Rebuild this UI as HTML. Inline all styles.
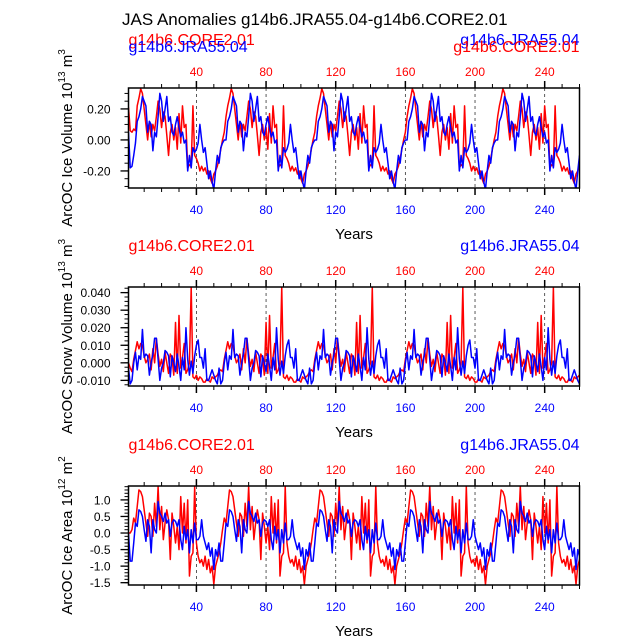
<!DOCTYPE html>
<html><head><meta charset="utf-8">
<style>
html,body{margin:0;padding:0;background:#fff;}
svg{display:block;font-family:"Liberation Sans",Arial,sans-serif;}
</style></head>
<body>
<svg id="chart" width="638" height="638" viewBox="0 0 638 638" xmlns="http://www.w3.org/2000/svg">
<text x="122" y="25" font-size="17" fill="#000">JAS Anomalies g14b6.JRA55.04-g14b6.CORE2.01</text>
</svg>
<script>
// ---- data (one 52-year forcing cycle, repeated 5x) ----
const years = Array.from({length:260},(_,i)=>i+1);
const xTicks = [40,80,120,160,200,240];
const volTicks = [0.2,0,-0.2];
const volTickLabels = ["0.20","0.00","-0.20"];
const snowTicks = [0.04,0.03,0.02,0.01,0,-0.01];
const snowTickLabels = ["0.040","0.030","0.020","0.010","0.000","-0.010"];
const areaTicks = [1,0.5,0,-0.5,-1,-1.5];
const areaTickLabels = ["1.0","0.5","0.0","-0.5","-1.0","-1.5"];

const coreVolCycle = [-0.12,-0.06,0.0,0.05,0.15,0.22,0.27,0.33,0.3,0.2,0.1,0.0,0.12,0.02,0.1,0.06,0.15,0.25,0.2,0.08,0.18,0.15,0.03,-0.1,0.05,0.1,0.0,0.08,-0.06,0.17,-0.02,0.22,0.08,0.1,-0.18,-0.16,-0.17,0.22,-0.1,-0.12,-0.15,-0.2,-0.17,-0.2,-0.18,-0.22,-0.2,-0.25,-0.28,-0.22,-0.2,-0.17];
const jraVolCycle = [-0.15,-0.05,-0.02,0.0,0.0,0.12,0.15,0.2,0.28,0.25,0.22,0.05,0.12,0.1,-0.07,0.05,0.02,0.15,0.3,0.25,0.12,0.2,0.28,0.12,0.15,0.05,0.03,0.1,0.15,0.08,0.02,0.05,-0.02,0.0,-0.2,-0.1,-0.18,-0.05,-0.08,-0.06,-0.02,0.1,0.0,-0.08,-0.05,-0.15,-0.25,-0.2,-0.27,-0.32,-0.2,-0.1];
const coreSnowCycle = [-0.005,-0.004,-0.005,0.002,0.007,0.012,0.008,0.011,0.01,0.004,0.0,0.002,0.005,-0.004,0.008,0.0,0.014,0.005,-0.002,0.002,-0.005,0.006,0.0,-0.006,0.005,0.003,-0.007,0.023,-0.006,0.027,-0.003,0.003,0.011,-0.006,-0.004,0.0,0.043,-0.008,-0.009,-0.007,-0.01,-0.008,-0.009,-0.011,-0.011,-0.009,-0.01,-0.011,-0.008,-0.009,-0.008,-0.007];
const jraSnowCycle = [-0.003,-0.012,-0.01,0.0,0.006,-0.004,0.004,0.002,0.019,0.003,0.005,0.004,-0.007,0.0,0.005,0.014,0.014,0.002,-0.01,-0.003,0.0,0.007,0.006,0.004,-0.008,0.004,0.0,-0.005,0.005,-0.002,-0.01,0.003,-0.004,0.02,0.002,-0.007,0.001,-0.006,0.004,0.01,0.013,0.003,0.003,-0.003,0.008,-0.01,-0.01,-0.007,-0.004,-0.007,-0.01,-0.012];
const coreAreaCycle = [-0.6,-0.3,0.1,0.45,0.3,0.8,1.3,1.25,1.1,0.7,0.3,-0.1,0.6,0.5,-0.1,0.9,0.2,1.4,0.1,0.8,-0.2,0.3,0.7,0.4,-0.8,0.6,0.2,-0.3,0.2,-0.5,1.1,0.0,0.9,-0.3,1.0,-1.3,-0.7,-0.6,1.4,-0.3,-0.7,-0.9,-0.8,-1.0,-0.7,-1.1,-0.8,-1.2,-1.0,-1.55,-1.0,-0.8];
const jraAreaCycle = [-0.3,-0.85,-0.85,-0.3,0.3,0.2,0.7,0.65,0.5,0.1,-0.25,0.4,0.2,-0.6,0.4,0.1,0.0,0.95,0.6,0.5,0.35,0.6,0.3,0.4,-0.1,0.3,0.4,0.35,0.2,0.4,-0.2,-0.5,0.2,-0.2,0.1,-0.6,0.1,-0.3,0.3,-0.2,-0.2,-0.1,0.4,-0.1,-0.3,-0.5,-0.3,-0.7,-0.45,-1.1,-0.5,-0.7];

const coreVol = [].concat(coreVolCycle,coreVolCycle,coreVolCycle,coreVolCycle,coreVolCycle);
const jraVol = [].concat(jraVolCycle,jraVolCycle,jraVolCycle,jraVolCycle,jraVolCycle);
const coreSnow = [].concat(coreSnowCycle,coreSnowCycle,coreSnowCycle,coreSnowCycle,coreSnowCycle);
const jraSnow = [].concat(jraSnowCycle,jraSnowCycle,jraSnowCycle,jraSnowCycle,jraSnowCycle);
const coreArea = [].concat(coreAreaCycle,coreAreaCycle,coreAreaCycle,coreAreaCycle,coreAreaCycle);
const jraArea = [].concat(jraAreaCycle,jraAreaCycle,jraAreaCycle,jraAreaCycle,jraAreaCycle);
// first-cycle start values differ from later cycles
coreVol[0]=0.21;coreVol[1]=0.06;coreVol[2]=0.05;coreVol[3]=0.07;coreVol[4]=0.06;
jraVol[0]=0.05;jraVol[1]=-0.18;jraVol[2]=-0.17;jraVol[3]=-0.1;jraVol[4]=-0.02;
coreArea[0]=0.0;coreArea[1]=0.0;
jraArea[0]=0.0;
coreSnow[0]=0.0;coreSnow[1]=-0.003;

const NS="http://www.w3.org/2000/svg";
const svg=document.getElementById('chart');
function mk(tag,attrs,parent){const e=document.createElementNS(NS,tag);for(const k in attrs)e.setAttribute(k,attrs[k]);(parent||svg).appendChild(e);return e;}

const X0=128.5,X1=579.5,XMIN=1,XMAX=260;
function xs(v){return X0+(v-XMIN)/(XMAX-XMIN)*(X1-X0);}

function panel(cfg){
  const g=mk('g',{});
  
  
  const top=cfg.top,bot=cfg.bot;
  const ys=v=>top+(cfg.ymax-v)/(cfg.ymax-cfg.ymin)*(bot-top);
  const lc=mk('text',{x:X0,y:top-43+cfg.labOff,'font-size':16,fill:'red'},g);lc.textContent='g14b6.CORE2.01';
  
  const rj=mk('text',{x:X1,y:top-43+cfg.labOff,'font-size':16,fill:'blue','text-anchor':'end'},g);rj.textContent='g14b6.JRA55.04';
  
  if(cfg.overlap){
    const lj=mk('text',{x:X0,y:top-36,'font-size':16,fill:'blue'},g);lj.textContent='g14b6.JRA55.04';
    
    const rc=mk('text',{x:X1,y:top-36,'font-size':16,fill:'red','text-anchor':'end'},g);rc.textContent='g14b6.CORE2.01';
    
  }
  for(let v=10;v<=260;v+=10){
    const major=(v%40===0);const L=major?7:4;const x=xs(v);
    mk('line',{x1:x,x2:x,y1:top,y2:top-L,stroke:'#000','stroke-width':major?1.5:1},g);
    mk('line',{x1:x,x2:x,y1:bot,y2:bot+L,stroke:'#000','stroke-width':major?1.5:1},g);
  }
  xTicks.forEach(v=>{
    const x=xs(v);
    const dl=mk('line',{x1:x,x2:x,y1:top,y2:bot,stroke:'#333','stroke-width':0.8,'stroke-dasharray':'3,3'},g);
    
    const t=mk('text',{x:x,y:top-12,'font-size':12,fill:'red','text-anchor':'middle'},g);t.textContent=v;
    
    const b=mk('text',{x:x,y:bot+26,'font-size':12,fill:'blue','text-anchor':'middle'},g);b.textContent=v;
    
  });
  for(let v=cfg.minorStart;v<=cfg.ymax+1e-9;v+=cfg.minor){
    if(v<cfg.ymin-1e-9)continue;const y=ys(v);
    mk('line',{x1:X0,x2:X0-4,y1:y,y2:y,stroke:'#000','stroke-width':1},g);
  }
  cfg.ticks.forEach((v,i)=>{
    const y=ys(v);
    mk('line',{x1:X0,x2:X0-8,y1:y,y2:y,stroke:'#000','stroke-width':1.3},g);
    const t=mk('text',{x:X0-18,y:y+4.5,'font-size':12,fill:'#000','text-anchor':'end'},g);t.textContent=cfg.tickLabels[i];
    
  });
  const clipId='clip'+cfg.name;
  const cp=mk('clipPath',{id:clipId},g);mk('rect',{x:X0,y:top,width:X1-X0,height:bot-top},cp);
  [[cfg.core,'red','core-series'],[cfg.jra,'blue','jra-series']].forEach(([arr,col,nm])=>{
    const d=arr.map((v,i)=>(i?'L':'M')+xs(years[i]).toFixed(2)+','+ys(v).toFixed(2)).join('');
    const p=mk('path',{d:d,fill:'none',stroke:col,'stroke-width':1.5,'clip-path':'url(#'+clipId+')','stroke-linejoin':'round'},g);
    
  });
  const fr=mk('rect',{x:X0,y:top,width:X1-X0,height:bot-top,fill:'none',stroke:'#000','stroke-width':1.5},g);
  
  const yr=mk('text',{x:(X0+X1)/2,y:bot+51,'font-size':15,fill:'#000','text-anchor':'middle'},g);yr.textContent='Years';
  
  const cy=(top+bot)/2;
  const yl=mk('text',{x:0,y:0,'font-size':15,fill:'#000','text-anchor':'middle',transform:'translate(72,'+cy+') rotate(-90)'},g);
  
  yl.innerHTML=cfg.ylab+' 10<tspan dy="-7" font-size="10">'+cfg.exp+'</tspan><tspan dy="7"> m</tspan><tspan dy="-7" font-size="10">'+cfg.unitExp+'</tspan>';
}

panel({name:'ice-volume-panel',top:88,bot:188,ymin:-0.31,ymax:0.335,ticks:volTicks,tickLabels:volTickLabels,minor:0.05,minorStart:-0.3,core:coreVol,jra:jraVol,ylab:'ArcOC Ice Volume',exp:'13',unitExp:'3',overlap:true,labOff:0});
panel({name:'snow-volume-panel',top:287,bot:386,ymin:-0.0132,ymax:0.0432,ticks:snowTicks,tickLabels:snowTickLabels,minor:0.0025,minorStart:-0.0125,core:coreSnow,jra:jraSnow,ylab:'ArcOC Snow Volume',exp:'13',unitExp:'3',overlap:false,labOff:7});
panel({name:'ice-area-panel',top:486,bot:585,ymin:-1.57,ymax:1.42,ticks:areaTicks,tickLabels:areaTickLabels,minor:0.1,minorStart:-1.5,core:coreArea,jra:jraArea,ylab:'ArcOC Ice Area',exp:'12',unitExp:'2',overlap:false,labOff:7});
</script>
</body></html>
